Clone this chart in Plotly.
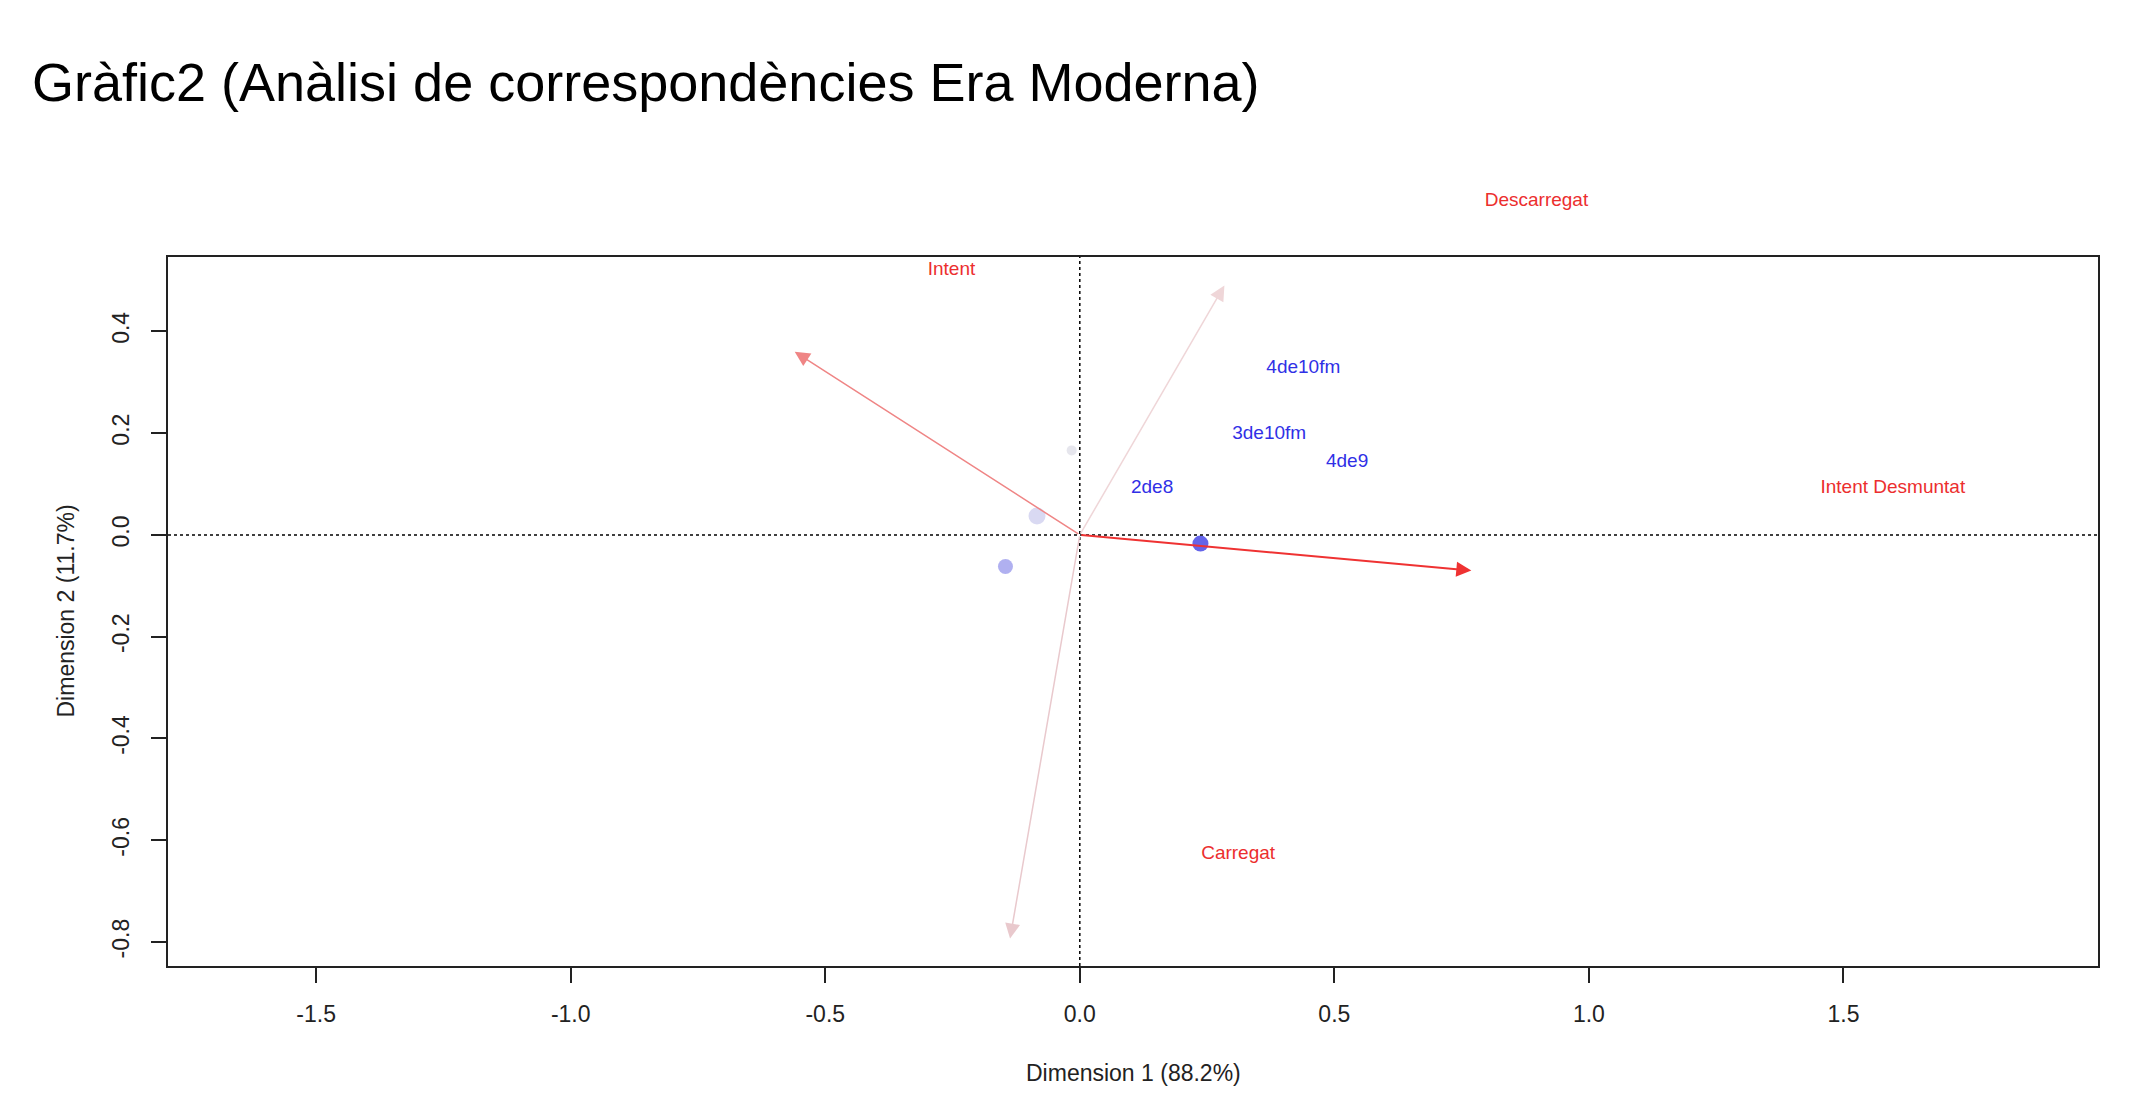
import plotly.graph_objects as go

# column labels (blue) and row labels (red)
col_labels = ['4de10fm', '3de10fm', '4de9', '2de8']
col_x = [0.439, 0.372, 0.525, 0.142]
col_y = [0.327, 0.198, 0.142, 0.092]

dot_x = [-0.084, -0.146, 0.237, -0.016]
dot_y = [0.037, -0.062, -0.017, 0.166]
dot_color = ['#c9c9ec', '#8e8ee9', '#2222e0', '#dcdce6']
dot_size = [17, 15, 16, 10]

row_labels = ['Descarregat', 'Intent', 'Intent Desmuntat', 'Carregat']
row_x = [0.897, -0.252, 1.597, 0.311]
row_y = [0.656, 0.519, 0.091, -0.627]

arrow_x = [-0.560, 0.284, -0.137, 0.769]
arrow_y = [0.360, 0.490, -0.793, -0.070]
arrow_color = ['#ef8585', '#efd6d8', '#e9c9cd', '#ef3232']
arrow_width = [1.5, 1.5, 1.5, 2.0]

x_ticks = [-1.5, -1.0, -0.5, 0.0, 0.5, 1.0, 1.5]
x_tick_text = ['-1.5', '-1.0', '-0.5', '0.0', '0.5', '1.0', '1.5']
y_ticks = [-0.8, -0.6, -0.4, -0.2, 0.0, 0.2, 0.4]
y_tick_text = ['-0.8', '-0.6', '-0.4', '-0.2', '0.0', '0.2', '0.4']

label_font = 'Liberation Sans Narrow, Liberation Sans, Arial'

# frame spans 709 px, the hidden second y axis runs higher with the same scale
top_m, bot_m, H = 100, 162, 1120
frame_h = 709
y_lo, y_hi = -0.847, 0.546
dom_top = frame_h / (H - top_m - bot_m)
y2_hi = y_lo + (y_hi - y_lo) / dom_top

fig = go.Figure()

fig.add_hline(y=0, line=dict(color='black', width=1.5, dash='dot'))
fig.add_vline(x=0, line=dict(color='black', width=1.5, dash='dot'))

for ax_, ay_, c, w in zip(arrow_x, arrow_y, arrow_color, arrow_width):
    fig.add_annotation(x=ax_, y=ay_, ax=0, ay=0, xref='x', yref='y', axref='x', ayref='y',
                       text='', showarrow=True, arrowhead=2, arrowsize=2.0 * 1.5 / w, arrowwidth=w,
                       arrowcolor=c)

fig.add_trace(go.Scatter(x=dot_x, y=dot_y, mode='markers',
                         marker=dict(color=dot_color, size=dot_size, line=dict(width=0)),
                         showlegend=False))

fig.add_trace(go.Scatter(x=col_x, y=col_y, mode='text', text=col_labels,
                         textfont=dict(family=label_font, size=19, color='#3030e6'),
                         showlegend=False, cliponaxis=False))

fig.add_trace(go.Scatter(x=row_x, y=row_y, yaxis='y2', mode='text', text=row_labels,
                         textfont=dict(family=label_font, size=19, color='#ec2e2e'),
                         showlegend=False, cliponaxis=False))

axis_common = dict(showgrid=False, zeroline=False, showline=True, mirror=True,
                   linecolor='#222222', linewidth=1.5, ticks='outside', ticklen=15,
                   tickwidth=1.5, tickcolor='#222222',
                   tickfont=dict(family='Liberation Sans, Arial', size=23, color='#222222'))

fig.update_layout(
    xaxis=dict(range=[-1.791, 2.0], tickvals=x_ticks, ticktext=x_tick_text,
               ticklabelstandoff=12, **axis_common),
    yaxis=dict(range=[y_lo, y_hi], domain=[0, dom_top], tickvals=y_ticks, ticktext=y_tick_text,
               tickangle=-90, ticklabelstandoff=13, **axis_common),
    yaxis2=dict(range=[y_lo, y2_hi], domain=[0, 1], anchor='x', visible=False),
)

fig.add_annotation(text='Dimension 1 (88.2%)', xref='paper', yref='paper', x=0.5, y=0,
                   yshift=-107, showarrow=False, yanchor='middle',
                   font=dict(family=label_font, size=23, color='#222222'))
fig.add_annotation(text='Dimension 2 (11.7%)', xref='paper', yref='paper', x=0, y=dom_top / 2,
                   xshift=-103, showarrow=False, textangle=-90, xanchor='center',
                   font=dict(family=label_font, size=23, color='#222222'))

fig.update_layout(
    width=2147, height=H,
    margin=dict(l=160, r=57, t=top_m, b=bot_m),
    plot_bgcolor='rgba(0,0,0,0)', paper_bgcolor='white',
    title=dict(text='Gràfic2 (Anàlisi de correspondències Era Moderna)', x=24 / 2147, xanchor='left',
               y=1 - 74 / 1120, yanchor='middle',
               font=dict(family='Liberation Sans Narrow, Liberation Sans', size=54, color='black')),
)

fig.write_html('out.html')
